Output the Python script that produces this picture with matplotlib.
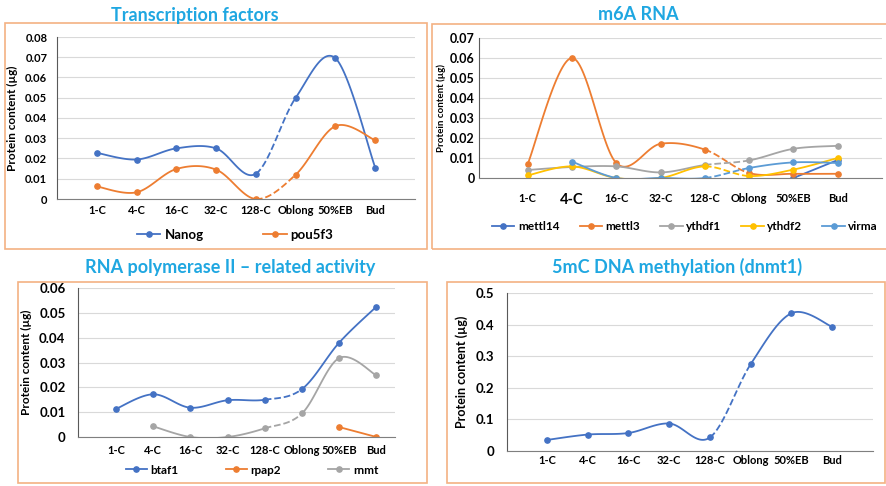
import numpy as np
import matplotlib
matplotlib.use('Agg')
import matplotlib.pyplot as plt
from matplotlib.patches import Rectangle
from matplotlib.ticker import FuncFormatter

plt.rcParams['font.family'] = ['Lato', 'DejaVu Sans']

stages = ['1-C', '4-C', '16-C', '32-C', '128-C', 'Oblong', '50%EB', 'Bud']
nan = np.nan

# Transcription factors
nanog = [0.0228, 0.0195, 0.0250, 0.0250, 0.0125, 0.0500, 0.0695, 0.0155]
pou5f3 = [0.0062, 0.0033, 0.0148, 0.0145, 0.0000, 0.0120, 0.0360, 0.0290]

# m6A RNA
mettl14 = [nan, nan, nan, nan, nan, nan, 0.0000, 0.0090]
mettl3 = [0.0070, 0.0600, 0.0075, 0.0171, 0.0142, 0.0025, 0.0021, 0.0021]
ythdf1 = [0.0040, 0.0055, 0.0058, 0.0028, 0.0065, 0.0088, 0.0146, 0.0161]
ythdf2 = [0.0013, 0.0058, 0.0000, 0.0000, 0.0058, 0.0010, 0.0042, 0.0100]
virma = [nan, 0.0082, 0.0000, 0.0000, 0.0000, 0.0050, 0.0078, 0.0075]

# RNA polymerase II
btaf1 = [0.0113, 0.0172, 0.0118, 0.0148, 0.0150, 0.0193, 0.0380, 0.0525]
rpap2 = [nan, nan, nan, nan, nan, nan, 0.0040, 0.0000]
rnmt = [nan, 0.0043, 0.0000, 0.0000, 0.0035, 0.0095, 0.0318, 0.0248]

# 5mC DNA methylation
dnmt1 = [0.035, 0.052, 0.057, 0.087, 0.043, 0.275, 0.436, 0.393]

BLUE, ORANGE, GRAY, YELLOW, LBLUE = '#4472C4', '#ED7D31', '#A5A5A5', '#FFC000', '#5B9BD5'
FRAME = '#F4B183'
TITLE = '#1FA7E1'

W, H = 887, 486
fig = plt.figure(figsize=(W / 100, H / 100), dpi=100)


def fx(px):
    return px / W


def fy(py):
    return 1 - py / H


def frame(x0, y0, x1, y1):
    fig.patches.append(Rectangle((fx(x0), fy(y1)), fx(x1 - x0), (y1 - y0) / H,
                                 transform=fig.transFigure, fill=False,
                                 edgecolor=FRAME, lw=1.2))


def smooth(xs, ys, sx, sy, n=40):
    # Excel-like smoothed line (Catmull-Rom as cubic Bezier), in pixel space
    xs = np.asarray(xs, float)
    ys = np.asarray(ys, float)
    idx = [i for i in range(len(ys)) if not np.isnan(ys[i])]
    runs, cur = [], []
    for i in idx:
        if cur and i != cur[-1] + 1:
            runs.append(cur)
            cur = []
        cur.append(i)
    if cur:
        runs.append(cur)
    segs = []
    t = np.linspace(0, 1, n)[:, None]
    for r in runs:
        P = np.column_stack([xs[r] * sx, ys[r] * sy])
        m = len(r)
        for j in range(m - 1):
            p0 = P[j - 1] if j > 0 else P[j]
            p1, p2 = P[j], P[j + 1]
            p3 = P[j + 2] if j + 2 < m else P[j + 1]
            b1 = p1 + (p2 - p0) / 6
            b2 = p2 - (p3 - p1) / 6
            c = ((1 - t) ** 3) * p1 + 3 * ((1 - t) ** 2) * t * b1 + 3 * (1 - t) * t ** 2 * b2 + t ** 3 * p2
            segs.append((r[j], c[:, 0] / sx, c[:, 1] / sy))
    return segs


def make_axes(x0, x1, ytop, ybot, xlim, ymax, ystep, ytick_fs, xpad, ypad):
    ax = fig.add_axes([fx(x0), fy(ybot), fx(x1 - x0), (ybot - ytop) / H])
    ax.set_xlim(*xlim)
    ax.set_ylim(0, ymax)
    ax.set_yticks(np.arange(0, ymax + ystep / 2, ystep))
    ax.yaxis.set_major_formatter(FuncFormatter(lambda v, p: f'{round(v, 4):g}'))
    ax.set_xticks(range(len(stages)))
    ax.set_xticklabels(stages, fontsize=8, fontweight='bold')
    for lab in ax.get_yticklabels():
        lab.set_fontsize(ytick_fs)
        lab.set_fontweight('bold')
    ax.tick_params(length=0)
    ax.tick_params(axis='x', pad=xpad)
    ax.tick_params(axis='y', pad=ypad)
    ax.grid(axis='y', color='#D9D9D9', lw=0.8)
    ax.set_axisbelow(True)
    for s in ['top', 'right']:
        ax.spines[s].set_visible(False)
    ax.spines['left'].set_color('#595959')
    ax.spines['bottom'].set_color('#7F7F7F')
    ax.set_facecolor('none')
    ax.px = (x1 - x0) / (xlim[1] - xlim[0])
    ax.py = (ybot - ytop) / ymax
    return ax


def draw(ax, vals, color, label):
    x = np.arange(len(stages))
    for i, sx_, sy_ in smooth(x, vals, ax.px, ax.py):
        ls = '--' if i == 4 else '-'
        ax.plot(sx_, sy_, color=color, lw=1.3, ls=ls, solid_capstyle='round')
    ax.plot(x, vals, 'o', color=color, ms=3.8, ls='none')
    ax.plot([], [], color=color, marker='o', ms=3.8, lw=1.3, label=label)


# Panel 1
frame(5, 23, 427, 249)
fig.text(fx(195), fy(15), 'Transcription factors', ha='center', va='center',
         fontsize=13, fontweight='bold', color=TITLE)
ax1 = make_axes(57, 415, 37, 199, (-1.0, 8.0), 0.08, 0.01, 8, 4, 7)
draw(ax1, nanog, BLUE, 'Nanog')
draw(ax1, pou5f3, ORANGE, 'pou5f3')
ax1.set_ylabel('Protein content (µg)', fontsize=8.5, fontweight='bold', labelpad=5)
ax1.legend(loc='center', bbox_to_anchor=(fx(235), fy(235)), bbox_transform=fig.transFigure,
           ncol=2, frameon=False, prop={'size': 9.5, 'weight': 'bold'},
           handlelength=1.8, columnspacing=4.5, handletextpad=0.3)

# Panel 2
frame(432, 24, 892, 249)
fig.text(fx(638), fy(15), 'm6A RNA', ha='center', va='center',
         fontsize=13, fontweight='bold', color=TITLE)
ax2 = make_axes(479, 882, 38, 178, (-1.1, 8.0), 0.07, 0.01, 9, 11, 3)
ax2.get_xticklabels()[1].set_fontsize(10.5)
draw(ax2, mettl14, BLUE, 'mettl14')
draw(ax2, mettl3, ORANGE, 'mettl3')
draw(ax2, ythdf1, GRAY, 'ythdf1')
draw(ax2, ythdf2, YELLOW, 'ythdf2')
draw(ax2, virma, LBLUE, 'virma')
fig.text(fx(441), fy(108), 'Protein content (µg)', rotation=90, ha='center', va='center',
         fontsize=7, fontweight='bold')
ax2.legend(loc='center', bbox_to_anchor=(fx(685), fy(227)), bbox_transform=fig.transFigure,
           ncol=5, frameon=False, prop={'size': 8.5, 'weight': 'bold'},
           handlelength=1.9, columnspacing=1.7, handletextpad=0.3)

# Panel 3
frame(18, 282, 427, 483)
fig.text(fx(230), fy(267), 'RNA polymerase II \u2013 related activity', ha='center', va='center',
         fontsize=13, fontweight='bold', color=TITLE)
ax3 = make_axes(78, 395, 288, 437, (-1.02, 7.5), 0.06, 0.01, 9.5, 6, 9)
draw(ax3, btaf1, BLUE, 'btaf1')
draw(ax3, rpap2, ORANGE, 'rpap2')
draw(ax3, rnmt, GRAY, 'rnmt')
ax3.set_ylabel('Protein content (µg)', fontsize=8.5, fontweight='bold', labelpad=5)
ax3.legend(loc='center', bbox_to_anchor=(fx(252), fy(470)), bbox_transform=fig.transFigure,
           ncol=3, frameon=False, prop={'size': 8.5, 'weight': 'bold'},
           handlelength=1.8, columnspacing=4.0, handletextpad=0.3)

# Panel 4
frame(447, 282, 885, 483)
fig.text(fx(677), fy(267), '5mC DNA methylation (dnmt1)', ha='center', va='center',
         fontsize=13, fontweight='bold', color=TITLE)
ax4 = make_axes(507, 873, 293, 451, (-0.98, 8.0), 0.5, 0.1, 9.5, 3, 9)
draw(ax4, dnmt1, BLUE, 'dnmt1')
ax4.set_ylabel('Protein content (µg)', fontsize=9, fontweight='bold', labelpad=6)

fig.savefig('out.png', dpi=100)
